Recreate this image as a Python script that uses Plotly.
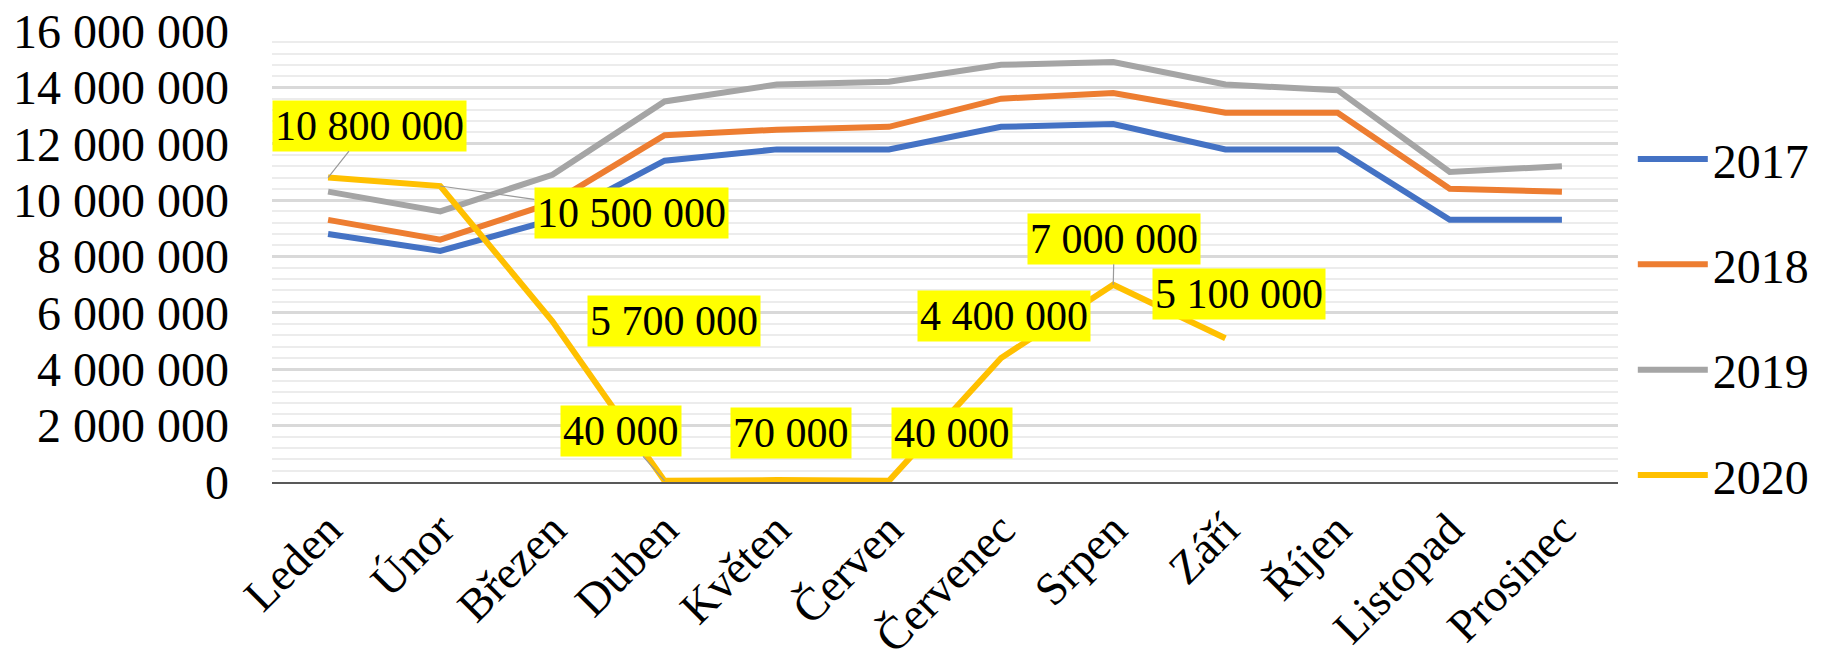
import plotly.graph_objects as go

months = ["Leden", "Únor", "Březen", "Duben", "Květen", "Červen",
          "Červenec", "Srpen", "Září", "Říjen", "Listopad", "Prosinec"]

v2017 = [8800000, 8200000, 9300000, 11400000, 11800000, 11800000,
         12600000, 12700000, 11800000, 11800000, 9300000, 9300000]
v2018 = [9300000, 8600000, 9900000, 12300000, 12500000, 12600000,
         13600000, 13800000, 13100000, 13100000, 10400000, 10300000]
v2019 = [10300000, 9600000, 10900000, 13500000, 14100000, 14200000,
         14800000, 14900000, 14100000, 13900000, 11000000, 11200000]
v2020 = [10800000, 10500000, 5700000, 40000, 70000, 40000,
         4400000, 7000000, 5100000, None, None, None]

series_names = ["2017", "2018", "2019", "2020"]
series_values = [v2017, v2018, v2019, v2020]
series_colors = ["#4472C4", "#ED7D31", "#A5A5A5", "#FFC000"]

# label placement for the 2020 data labels (pixel offsets, leader line shown?)
label_offsets = [(41, -52, True), (191, 27, True), (122, 0, False),
                 (-44, -50, True), (14, -47, False), (63, -48, False),
                 (3, -42, False), (1, -46, True), (14, -44, False)]

FONT = "Liberation Serif"

fig = go.Figure()
for name, vals, col in zip(series_names, series_values, series_colors):
    fig.add_trace(go.Scatter(
        x=months, y=vals, name=name, mode="lines",
        line=dict(color=col, width=6),
        legendgroup=name, connectgaps=False,
    ))

def fmt(v):
    return f"{v:,}".replace(",", " ")

annotations = []
for m, v, (ax, ay, lead) in zip(months, v2020, label_offsets):
    if v is None:
        continue
    annotations.append(dict(
        x=m, y=v, xref="x", yref="y",
        text=fmt(v), showarrow=True,
        ax=ax, ay=ay, axref="pixel", ayref="pixel",
        arrowhead=0, arrowwidth=1.2, standoff=0, startstandoff=0,
        arrowcolor="#9a9a9a" if lead else "rgba(0,0,0,0)",
        bgcolor="#FFFF00", borderpad=2,
        font=dict(family=FONT, size=42, color="black"),
    ))

# the page body has an 8px default margin, so the figure is 8px smaller
fig.update_layout(
    width=1815, height=655,
    margin=dict(l=264, r=205, t=23, b=181, autoexpand=False),
    paper_bgcolor="white", plot_bgcolor="white",
    font=dict(family=FONT, size=47, color="black"),
    separators=", ",
    showlegend=True,
    legend=dict(
        x=1.011, xanchor="left", y=0.80, yanchor="top",
        font=dict(family=FONT, size=48, color="black"),
        tracegroupgap=40, itemwidth=70,
        bgcolor="rgba(0,0,0,0)",
    ),
    annotations=annotations,
)

fig.update_xaxes(
    type="category", range=[-0.5, 11.5],
    tickangle=-45, showgrid=False, zeroline=False,
    showline=True, linecolor="#595959", linewidth=2,
    ticks="", tickfont=dict(family=FONT, size=46, color="black"),
)
fig.update_yaxes(
    range=[0, 16000000], dtick=2000000, tickformat=",d",
    showgrid=True, gridcolor="#d9d9d9", gridwidth=2.5,
    minor=dict(dtick=400000, showgrid=True, gridcolor="#ececec", gridwidth=2),
    zeroline=False, showline=False, ticks="",
    ticklabelstandoff=42, ticklabeloverflow="allow",
    tickfont=dict(family=FONT, size=48, color="black"),
)

fig.write_html("out.html")
